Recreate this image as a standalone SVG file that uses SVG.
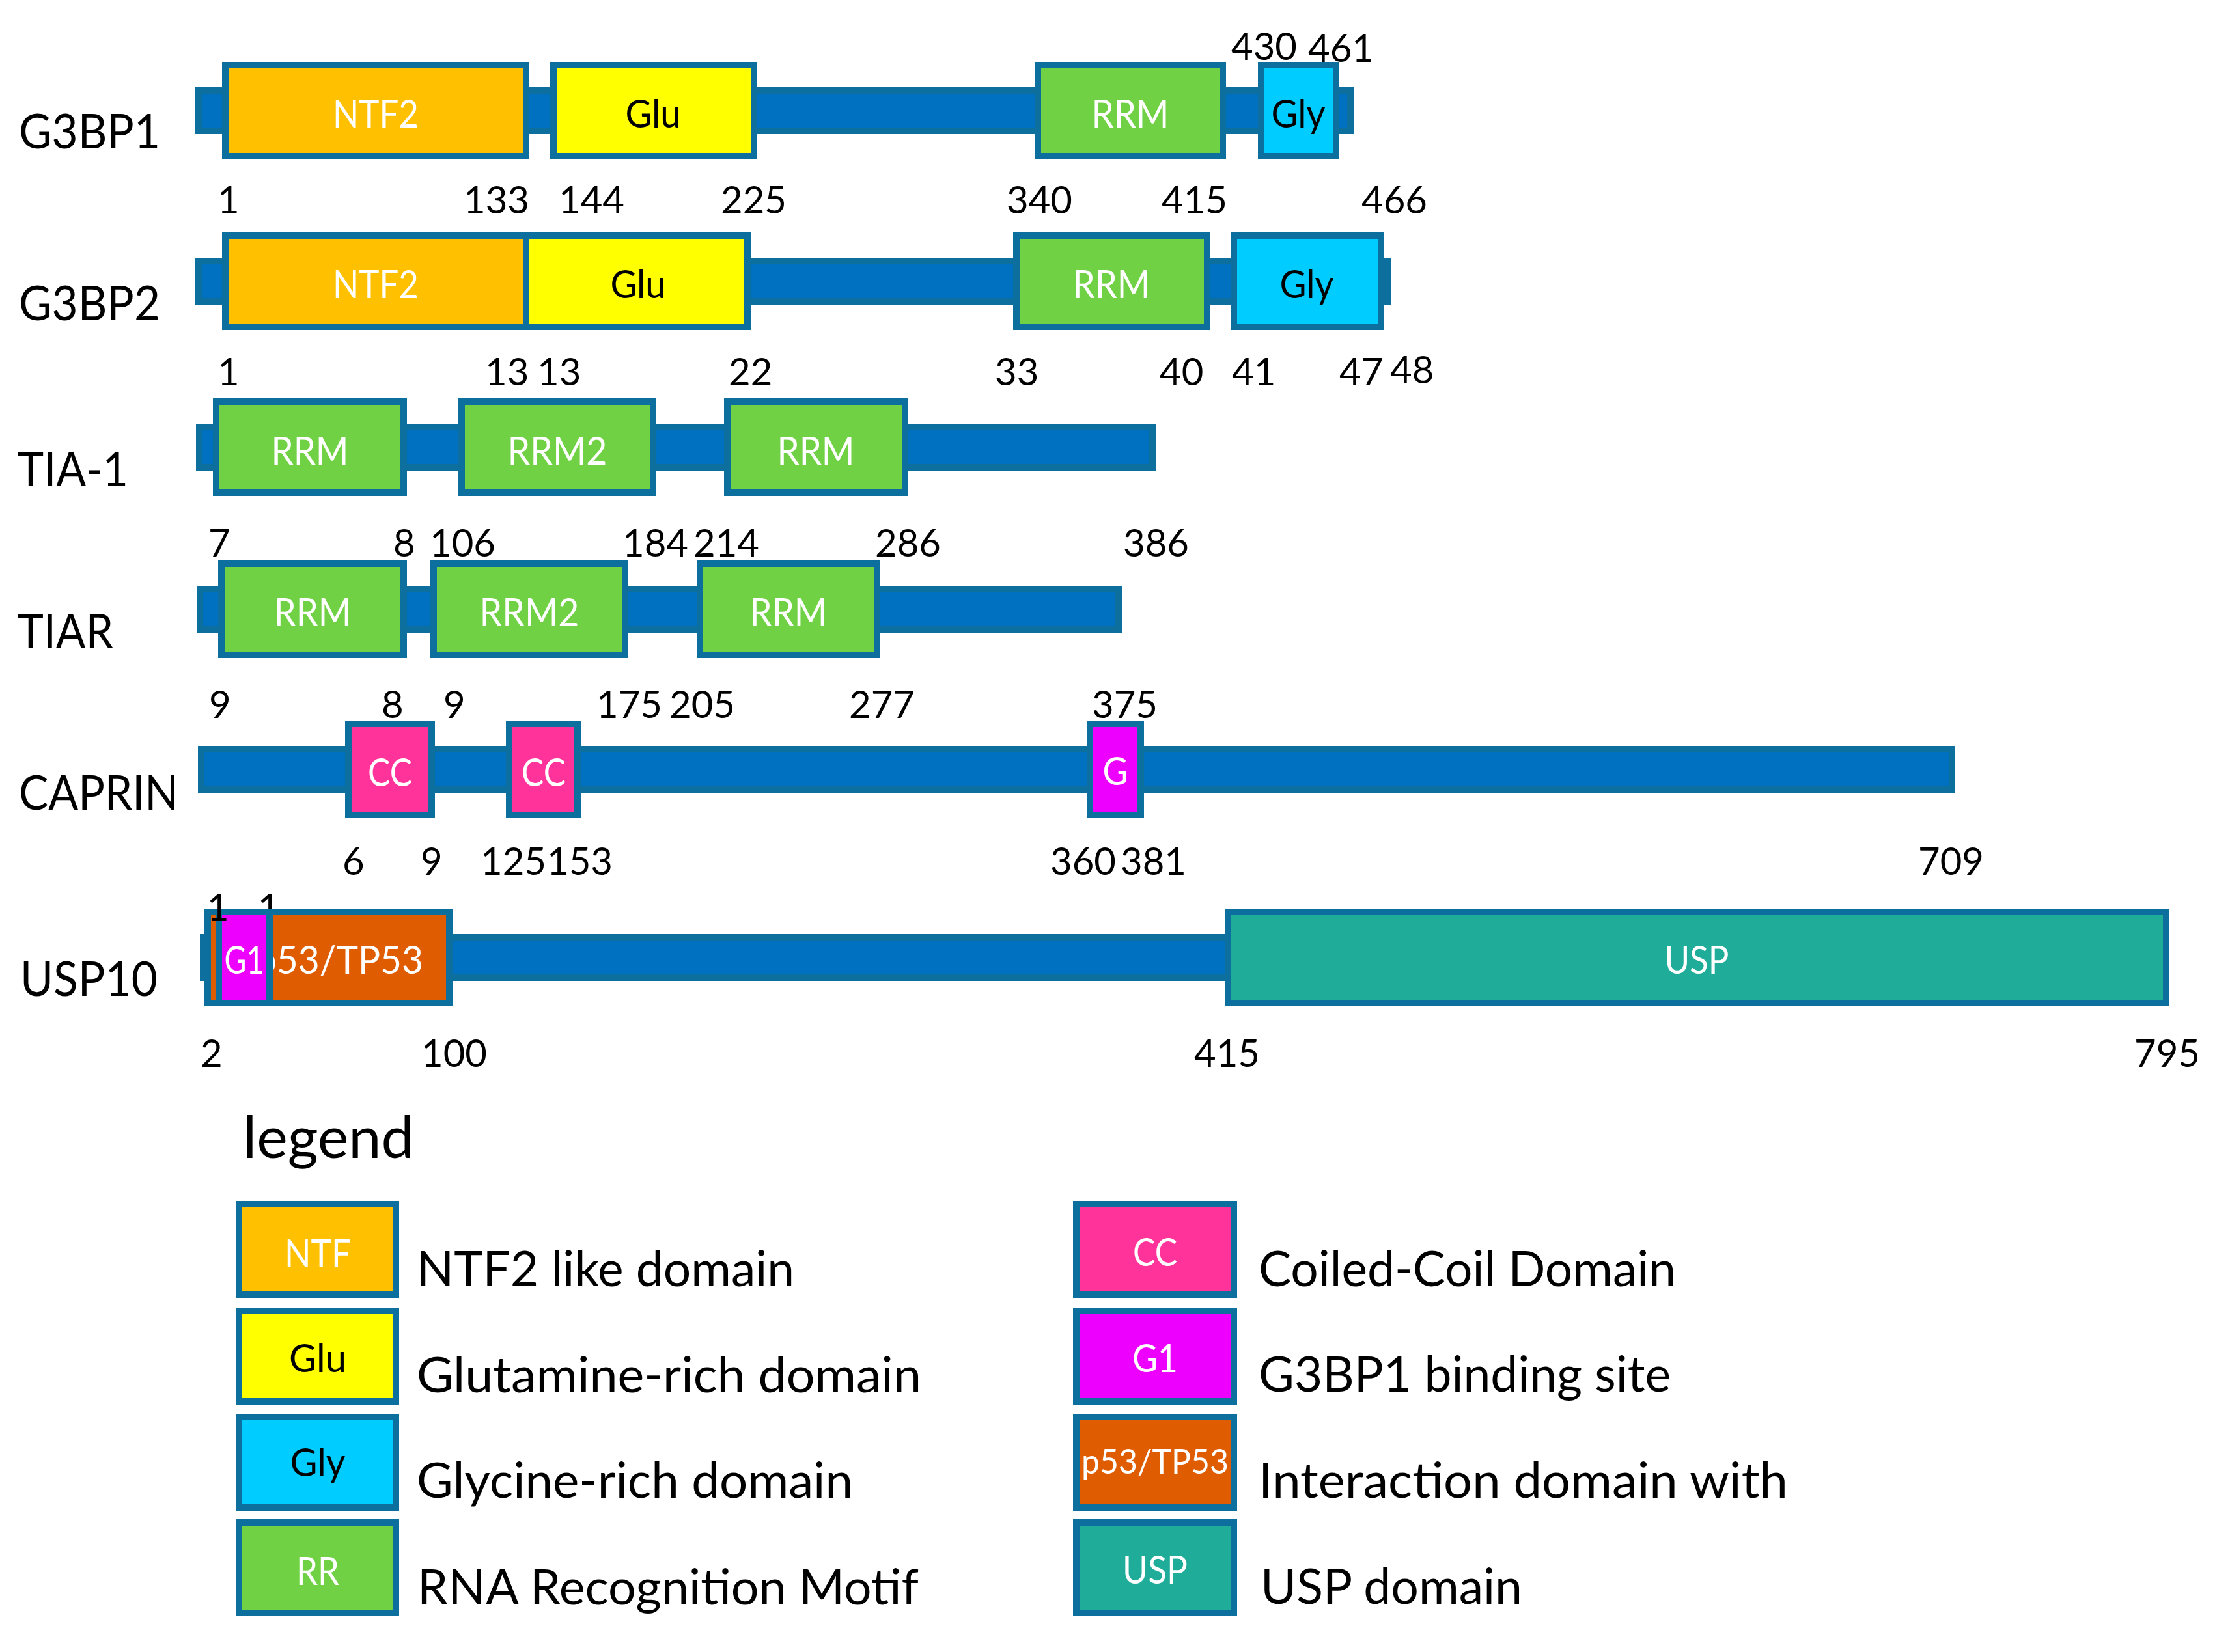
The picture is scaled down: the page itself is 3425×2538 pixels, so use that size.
<svg xmlns="http://www.w3.org/2000/svg" width="3425" height="2538" viewBox="0 0 3425 2538">
<style>
text{font-family:Lato,"Open Sans","Liberation Sans",sans-serif}
.bb{fill:#0070C0;stroke:#0C6F9D;stroke-width:10}
.d{stroke:#0C6F9D;stroke-width:10}
.ntf{fill:#FFC000}.glu{fill:#FFFF00}.rrm{fill:#6FD143}.gly{fill:#00CCFF}
.cc{fill:#FF3399}.g1{fill:#EE00FF}.p53{fill:#E05C00}.usp{fill:#1FAD9A}
.lab{font-size:73px;fill:#000}
.num{font-size:58px;fill:#000}
.dl{font-size:60px;text-anchor:middle}
.w{fill:#fff}.k{fill:#000}
.lt{font-size:75px;fill:#000}
</style>
<rect width="3425" height="2538" fill="#fff"/>

<g id="G3BP1">
<rect class="bb" x="305" y="139" width="1769" height="62"/>
<rect class="d ntf" x="346" y="100" width="462" height="140"/>
<rect class="d glu" x="850" y="100" width="308" height="140"/>
<rect class="d rrm" x="1594" y="100" width="284" height="140"/>
<rect class="d gly" x="1937" y="100" width="115" height="140"/>
<text class="lab" x="29" y="228" textLength="217" lengthAdjust="spacingAndGlyphs">G3BP1</text>
<text class="dl w" x="577" y="196" textLength="132" lengthAdjust="spacingAndGlyphs">NTF2</text>
<text class="dl k" x="1003" y="196" textLength="85" lengthAdjust="spacingAndGlyphs">Glu</text>
<text class="dl w" x="1736" y="196" textLength="119" lengthAdjust="spacingAndGlyphs">RRM</text>
<text class="dl k" x="1994" y="196" textLength="83" lengthAdjust="spacingAndGlyphs">Gly</text>
<text class="num" x="1891" y="92">430</text>
<text class="num" x="2009" y="95">461</text>
<text class="num" x="334" y="328">1</text>
<text class="num" x="712" y="328">133</text>
<text class="num" x="858" y="328">144</text>
<text class="num" x="1107" y="328">225</text>
<text class="num" x="1546" y="328">340</text>
<text class="num" x="1784" y="328">415</text>
<text class="num" x="2091" y="328">466</text>
</g>

<g id="G3BP2">
<rect class="bb" x="305" y="401" width="1826" height="62"/>
<rect class="d ntf" x="346" y="362" width="462" height="140"/>
<rect class="d glu" x="808" y="362" width="340" height="140"/>
<rect class="d rrm" x="1561" y="362" width="293" height="140"/>
<rect class="d gly" x="1895" y="362" width="226" height="140"/>
<text class="lab" x="29" y="492" textLength="217" lengthAdjust="spacingAndGlyphs">G3BP2</text>
<text class="dl w" x="577" y="458" textLength="132" lengthAdjust="spacingAndGlyphs">NTF2</text>
<text class="dl k" x="980" y="458" textLength="85" lengthAdjust="spacingAndGlyphs">Glu</text>
<text class="dl w" x="1707" y="458" textLength="119" lengthAdjust="spacingAndGlyphs">RRM</text>
<text class="dl k" x="2007" y="458" textLength="83" lengthAdjust="spacingAndGlyphs">Gly</text>
<text class="num" x="334" y="592">1</text>
<text class="num" x="745" y="592">13</text>
<text class="num" x="825" y="592">13</text>
<text class="num" x="1119" y="592">22</text>
<text class="num" x="1528" y="592">33</text>
<text class="num" x="1781" y="592">40</text>
<text class="num" x="1892" y="592">41</text>
<text class="num" x="2057" y="592">47</text>
<text class="num" x="2135" y="589">48</text>
</g>

<g id="TIA-1">
<rect class="bb" x="306" y="656" width="1464" height="62"/>
<rect class="d rrm" x="332" y="617" width="288" height="140"/>
<rect class="d rrm" x="709" y="617" width="294" height="140"/>
<rect class="d rrm" x="1117" y="617" width="273" height="140"/>
<text class="lab" x="27" y="747" textLength="170" lengthAdjust="spacingAndGlyphs">TIA-1</text>
<text class="dl w" x="476" y="714" textLength="119" lengthAdjust="spacingAndGlyphs">RRM</text>
<text class="dl w" x="856" y="714" textLength="153" lengthAdjust="spacingAndGlyphs">RRM2</text>
<text class="dl w" x="1253" y="714" textLength="119" lengthAdjust="spacingAndGlyphs">RRM</text>
<text class="num" x="320" y="855">7</text>
<text class="num" x="604" y="855">8</text>
<text class="num" x="660" y="855">106</text>
<text class="num" x="956" y="855">184</text>
<text class="num" x="1065" y="855">214</text>
<text class="num" x="1344" y="855">286</text>
<text class="num" x="1725" y="855">386</text>
</g>

<g id="TIAR">
<rect class="bb" x="307" y="905" width="1411" height="62"/>
<rect class="d rrm" x="340" y="866" width="280" height="140"/>
<rect class="d rrm" x="666" y="866" width="294" height="140"/>
<rect class="d rrm" x="1075" y="866" width="272" height="140"/>
<text class="lab" x="27" y="996" textLength="147" lengthAdjust="spacingAndGlyphs">TIAR</text>
<text class="dl w" x="480" y="962" textLength="119" lengthAdjust="spacingAndGlyphs">RRM</text>
<text class="dl w" x="813" y="962" textLength="153" lengthAdjust="spacingAndGlyphs">RRM2</text>
<text class="dl w" x="1211" y="962" textLength="119" lengthAdjust="spacingAndGlyphs">RRM</text>
<text class="num" x="321" y="1103">9</text>
<text class="num" x="586" y="1103">8</text>
<text class="num" x="681" y="1103">9</text>
<text class="num" x="916" y="1103">175</text>
<text class="num" x="1028" y="1103">205</text>
<text class="num" x="1304" y="1103">277</text>
<text class="num" x="1677" y="1103">375</text>
</g>

<g id="CAPRIN">
<rect class="bb" x="309" y="1151" width="2689" height="62"/>
<rect class="d cc" x="535" y="1112" width="128" height="140"/>
<rect class="d cc" x="782" y="1112" width="105" height="140"/>
<rect class="d g1" x="1674" y="1112" width="78" height="140"/>
<text class="lab" x="29" y="1244" textLength="245" lengthAdjust="spacingAndGlyphs">CAPRIN</text>
<text class="dl w" x="599" y="1208" textLength="68" lengthAdjust="spacingAndGlyphs">CC</text>
<text class="dl w" x="835" y="1208" textLength="68" lengthAdjust="spacingAndGlyphs">CC</text>
<text class="dl w" x="1713" y="1206" textLength="39" lengthAdjust="spacingAndGlyphs">G</text>
<text class="num" x="526" y="1344">6</text>
<text class="num" x="646" y="1344">9</text>
<text class="num" x="738" y="1344">125</text>
<text class="num" x="840" y="1344">153</text>
<text class="num" x="1613" y="1344">360</text>
<text class="num" x="1721" y="1344">381</text>
<text class="num" x="2946" y="1344">709</text>
</g>

<g id="USP10">
<text class="num" x="396" y="1415">1</text>
<rect class="bb" x="312" y="1440" width="1578" height="62"/>
<rect class="d p53" x="319" y="1401" width="371" height="140"/>
<text class="w" x="393" y="1496" font-size="60" textLength="257" lengthAdjust="spacingAndGlyphs">p53/TP53</text>
<rect class="d g1" x="336" y="1401" width="78" height="140"/>
<text class="dl w" x="375" y="1496" textLength="61" lengthAdjust="spacingAndGlyphs">G1</text>
<rect class="d usp" x="1886" y="1401" width="1441" height="140"/>
<text class="dl w" x="2606" y="1496" textLength="99" lengthAdjust="spacingAndGlyphs">USP</text>
<text class="num" x="318" y="1415">1</text>
<text class="lab" x="31" y="1530" textLength="211" lengthAdjust="spacingAndGlyphs">USP10</text>
<text class="num" x="308" y="1639">2</text>
<text class="num" x="647" y="1639">100</text>
<text class="num" x="1834" y="1639">415</text>
<text class="num" x="3278" y="1639">795</text>
</g>

<g id="legend">
<text x="373" y="1779" font-size="90" fill="#000" textLength="263" lengthAdjust="spacingAndGlyphs">legend</text>
<g id="legend-ntf">
<rect class="d ntf" x="367" y="1850" width="241" height="139"/>
<text class="dl w" x="488" y="1947" textLength="102" lengthAdjust="spacingAndGlyphs">NTF</text>
<text class="lt" x="640" y="1976" textLength="580" lengthAdjust="spacingAndGlyphs">NTF2 like domain</text>
</g>
<g id="legend-glu">
<rect class="d glu" x="367" y="2014" width="241" height="139"/>
<text class="dl k" x="488" y="2108" textLength="88" lengthAdjust="spacingAndGlyphs">Glu</text>
<text class="lt" x="640" y="2139" textLength="775" lengthAdjust="spacingAndGlyphs">Glutamine-rich domain</text>
</g>
<g id="legend-gly">
<rect class="d gly" x="367" y="2177" width="241" height="139"/>
<text class="dl k" x="488" y="2268" textLength="85" lengthAdjust="spacingAndGlyphs">Gly</text>
<text class="lt" x="640" y="2301" textLength="670" lengthAdjust="spacingAndGlyphs">Glycine-rich domain</text>
</g>
<g id="legend-rrm">
<rect class="d rrm" x="367" y="2339" width="241" height="139"/>
<text class="dl w" x="488" y="2435" textLength="66" lengthAdjust="spacingAndGlyphs">RR</text>
<text class="lt" x="641" y="2465" textLength="770" lengthAdjust="spacingAndGlyphs">RNA Recognition Motif</text>
</g>
<g id="legend-cc">
<rect class="d cc" x="1653" y="1850" width="242" height="139"/>
<text class="dl w" x="1774" y="1945" textLength="68" lengthAdjust="spacingAndGlyphs">CC</text>
<text class="lt" x="1933" y="1976" textLength="641" lengthAdjust="spacingAndGlyphs">Coiled-Coil Domain</text>
</g>
<g id="legend-g1">
<rect class="d g1" x="1653" y="2014" width="242" height="139"/>
<text class="dl w" x="1774" y="2108" textLength="70" lengthAdjust="spacingAndGlyphs">G1</text>
<text class="lt" x="1933" y="2138" textLength="633" lengthAdjust="spacingAndGlyphs">G3BP1 binding site</text>
</g>
<g id="legend-p53">
<rect class="d p53" x="1653" y="2177" width="242" height="139"/>
<text class="w" x="1774" y="2264" font-size="52" text-anchor="middle" textLength="226" lengthAdjust="spacingAndGlyphs">p53/TP53</text>
<text class="lt" x="1933" y="2301" textLength="813" lengthAdjust="spacingAndGlyphs">Interaction domain with</text>
</g>
<g id="legend-usp">
<rect class="d usp" x="1653" y="2339" width="242" height="139"/>
<text class="dl w" x="1774" y="2433" textLength="100" lengthAdjust="spacingAndGlyphs">USP</text>
<text class="lt" x="1936" y="2464" textLength="402" lengthAdjust="spacingAndGlyphs">USP domain</text>
</g>
</g>
</svg>
